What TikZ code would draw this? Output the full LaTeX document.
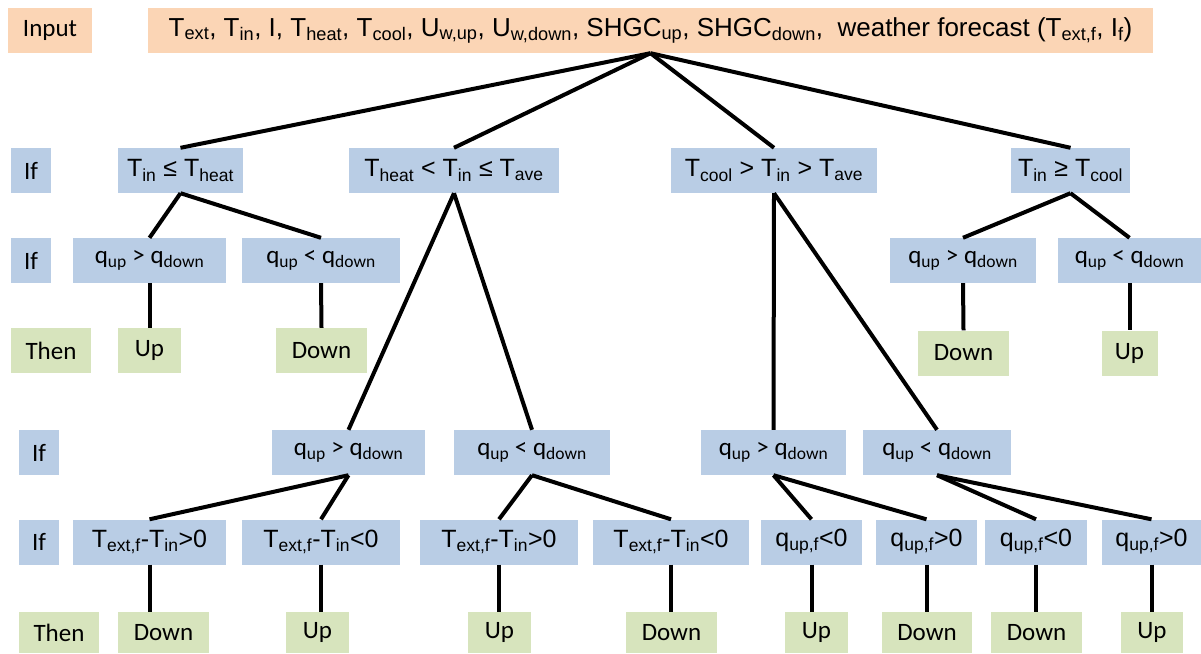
\documentclass[tikz,border=0pt]{standalone}
\usepackage{fontspec}
\setmainfont{Liberation Sans}
\newfontfamily\calibri{Carlito}
\usepackage{tikz}

\definecolor{inorange}{HTML}{FBD5B5}
\definecolor{ifblue}{HTML}{B9CDE5}
\definecolor{thengreen}{HTML}{D7E4BD}

\newcommand{\low}[1]{\textsubscript{#1}}

\begin{document}
\begin{tikzpicture}[x=1pt, y=-1pt, inner sep=0pt,
	inbox/.style = {fill=inorange, minimum height=45pt},
	ifbox/.style = {fill=ifblue, minimum height=45pt},
	thenbox/.style = {fill=thengreen, minimum height=45pt},
	word/.style = {font=\calibri\fontsize{25}{30}\selectfont},
	cond/.style = {font=\fontsize{25}{30}\selectfont},
	branch/.style = {line width=4pt}]
	\useasboundingbox (0,0) rectangle (1201,653);

	% input
	\node[inbox, word, minimum width=84pt] (inlbl) at (50,30.5) {Input};
	\node[inbox, cond, font=\fontsize{26}{30}\selectfont, minimum width=1005pt] (root) at (650.5,30.5) {T\low{ext}, T\low{in}, I, T\low{heat}, T\low{cool}, U\low{w,up}, U\low{w,down}, SHGC\low{up}, SHGC\low{down}, \ weather forecast (T\low{ext,f}, I\low{f})};

	% first condition
	\node[ifbox, word, minimum width=40pt] (if1) at (31,170.5) {If};
	\node[ifbox, cond, minimum width=125pt] (heat) at (180.5,170.5) {T\low{in} ≤ T\low{heat}};
	\node[ifbox, cond, minimum width=210pt] (mild) at (454,170.5) {T\low{heat} < T\low{in} ≤ T\low{ave}};
	\node[ifbox, cond, minimum width=206pt] (warm) at (774,170.5) {T\low{cool} > T\low{in} > T\low{ave}};
	\node[ifbox, cond, minimum width=119pt] (cool) at (1070.5,170.5) {T\low{in} ≥ T\low{cool}};

	% q rows
	\node[ifbox, word, minimum width=40pt] (if2) at (31,260.5) {If};
	\node[ifbox, word, minimum width=153pt] (q1) at (149.5,260.5) {q\low{up} > q\low{down}};
	\node[ifbox, word, minimum width=158pt] (q2) at (321,260.5) {q\low{up} < q\low{down}};
	\node[ifbox, word, minimum width=146pt] (q3) at (963,260.5) {q\low{up} > q\low{down}};
	\node[ifbox, word, minimum width=143pt] (q4) at (1129.5,260.5) {q\low{up} < q\low{down}};

	\node[thenbox, word, minimum width=80pt] (then1) at (51,350.5) {Then};
	\node[thenbox, word, minimum width=63pt] (up1) at (149.5,350.5) {Up};
	\node[thenbox, word, minimum width=91pt] (down1) at (321.5,350.5) {Down};
	\node[thenbox, word, minimum width=91pt] (down2) at (963.5,353) {Down};
	\node[thenbox, word, minimum width=56pt] (up2) at (1129.5,353) {Up};

	\node[ifbox, word, minimum width=40pt] (if3) at (39,452.5) {If};
	\node[ifbox, word, minimum width=153pt] (r1) at (348.5,452.5) {q\low{up} > q\low{down}};
	\node[ifbox, word, minimum width=156pt] (r2) at (532,452.5) {q\low{up} < q\low{down}};
	\node[ifbox, word, minimum width=145pt] (r3) at (773.5,452.5) {q\low{up} > q\low{down}};
	\node[ifbox, word, minimum width=148pt] (r4) at (937,452.5) {q\low{up} < q\low{down}};

	% forecast
	\node[ifbox, word, minimum width=40pt] (if4) at (39,542) {If};
	\node[ifbox, cond, minimum width=153pt] (s1) at (149.5,542) {T\low{ext,f}-T\low{in}>0};
	\node[ifbox, cond, minimum width=158pt] (s2) at (321,542) {T\low{ext,f}-T\low{in}<0};
	\node[ifbox, cond, minimum width=158pt] (s3) at (499,542) {T\low{ext,f}-T\low{in}>0};
	\node[ifbox, cond, minimum width=156pt] (s4) at (671,542) {T\low{ext,f}-T\low{in}<0};
	\node[ifbox, cond, minimum width=101pt] (s5) at (811.5,542) {q\low{up,f}<0};
	\node[ifbox, cond, minimum width=101pt] (s6) at (926.5,542) {q\low{up,f}>0};
	\node[ifbox, cond, minimum width=102pt] (s7) at (1036,542) {q\low{up,f}<0};
	\node[ifbox, cond, minimum width=99pt] (s8) at (1151.5,542) {q\low{up,f}>0};

	\node[thenbox, word, minimum width=80pt, minimum height=41pt] (then2) at (59,632.5) {Then};
	\node[thenbox, word, minimum width=91pt, minimum height=41pt] (t1) at (163.5,632.5) {Down};
	\node[thenbox, word, minimum width=63pt, minimum height=41pt] (t2) at (317.5,632.5) {Up};
	\node[thenbox, word, minimum width=63pt, minimum height=41pt] (t3) at (499.5,632.5) {Up};
	\node[thenbox, word, minimum width=91pt, minimum height=41pt] (t4) at (671.5,632.5) {Down};
	\node[thenbox, word, minimum width=63pt, minimum height=41pt] (t5) at (816.5,632.5) {Up};
	\node[thenbox, word, minimum width=90pt, minimum height=41pt] (t6) at (927,632.5) {Down};
	\node[thenbox, word, minimum width=91pt, minimum height=41pt] (t7) at (1036.5,632.5) {Down};
	\node[thenbox, word, minimum width=62pt, minimum height=41pt] (t8) at (1152,632.5) {Up};

	\draw[branch] (root.south) -- (heat.north);
	\draw[branch] (root.south) -- (mild.north);
	\draw[branch] (root.south) -- (warm.north);
	\draw[branch] (root.south) -- (cool.north);
	\draw[branch] (heat.south) -- (q1.north);
	\draw[branch] (heat.south) -- (q2.north);
	\draw[branch] (cool.south) -- (q3.north);
	\draw[branch] (cool.south) -- (q4.north);
	\draw[branch] (q1.south) -- (up1.north);
	\draw[branch] (q2.south) -- (down1.north);
	\draw[branch] (q3.south) -- (down2.north);
	\draw[branch] (q4.south) -- (up2.north);
	\draw[branch] (mild.south) -- (r1.north);
	\draw[branch] (mild.south) -- (r2.north);
	\draw[branch] (warm.south) -- (r3.north);
	\draw[branch] (warm.south) -- (r4.north);
	\draw[branch] (r1.south) -- (s1.north);
	\draw[branch] (r1.south) -- (s2.north);
	\draw[branch] (r2.south) -- (s3.north);
	\draw[branch] (r2.south) -- (s4.north);
	\draw[branch] (r3.south) -- (s5.north);
	\draw[branch] (r3.south) -- (s6.north);
	\draw[branch] (r4.south) -- (s7.north);
	\draw[branch] (r4.south) -- (s8.north);
	\foreach \i in {1,...,8}
		\draw[branch] (s\i.south) -- (s\i.south |- t\i.north);
\end{tikzpicture}
\end{document}
